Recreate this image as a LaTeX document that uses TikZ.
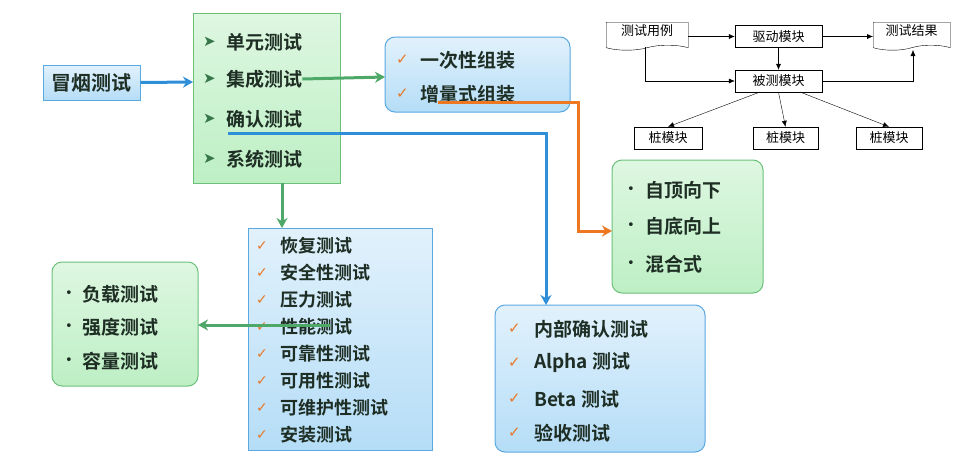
\documentclass[tikz,border=0pt]{standalone}
\usepackage{fontspec}
\setmainfont{Noto Sans CJK SC}
\newfontfamily\cjkb{Noto Sans CJK SC Bold}
\newfontfamily\dv{DejaVu Sans}
\usetikzlibrary{arrows.meta,shapes.symbols}
\definecolor{gfill}{HTML}{BDEFC4}
\definecolor{gdraw}{HTML}{6CC07A}
\definecolor{bfill}{HTML}{B5DDF7}
\definecolor{bdraw}{HTML}{5AA8E0}
\definecolor{arrB}{HTML}{2E8FD8}
\definecolor{arrG}{HTML}{4EA868}
\definecolor{arrO}{HTML}{EE7722}
\definecolor{tick}{HTML}{E8782A}
\definecolor{txt}{HTML}{1E2E24}
\tikzset{
 gbox/.style={draw=gdraw,top color=gfill!50,bottom color=gfill,line width=1pt},
 bbox/.style={draw=bdraw,top color=bfill!40,bottom color=bfill,line width=1pt},
 it/.style={anchor=west,font=\cjkb\fontsize{19}{19}\selectfont,text=txt,inner sep=0pt},
 mk/.style={anchor=west,inner sep=0pt},
 sm/.style={draw,thin,inner sep=2pt,minimum height=22pt,font=\fontsize{13}{13}\selectfont},
 sa/.style={-{Latex[length=6pt,width=5pt]},thin},
 ba/.style={line width=3pt,-{Stealth[length=10pt,width=11pt]}},
}
\begin{document}
\begin{tikzpicture}[x=1pt,y=-1pt]
\useasboundingbox (0,0) rectangle (970,469);
\fill[white] (0,0) rectangle (970,469);
% boxes
\node[bbox,minimum width=97pt,minimum height=35pt,font=\cjkb\fontsize{20}{20}\selectfont,text=txt] (smoke) at (91.5,82.5) {冒烟测试};
\path[gbox] (193,13) rectangle (340,183);
\coordinate (gL) at (193,82); \coordinate (gB) at (282,183);
\foreach \t/\y/\n in {单元测试/42/u,集成测试/79/j,确认测试/119/q,系统测试/159/s}{
 \node[mk,text=arrG!70!black] at (203,\y) {\dv\fontsize{15}{15}\selectfont ➤};
 \node[it] (\n) at (226,\y) {\t};}
\path[bbox,rounded corners=10pt] (385,37) rectangle (570,112);
\coordinate (asmL) at (385,77);
\foreach \t/\y/\n in {一次性组装/60/a1,增量式组装/94/a2}{
 \node[mk,text=tick] at (396,\y) {\dv\fontsize{15}{15}\selectfont ✓};
 \node[it] (\n) at (420,\y) {\t};}
\path[gbox,rounded corners=10pt] (612,160) rectangle (763,293);
\coordinate (tdL) at (612,231);
\foreach \t/\y in {自顶向下/190,自底向上/226,混合式/264}{
 \node[mk,text=txt] at (627,\y) {\dv\fontsize{13}{13}\selectfont •};
 \node[it] at (645,\y) {\t};}
\path[bbox,rounded corners=10pt] (495,305) rectangle (705,452);
\coordinate (vT) at (546,305);
\foreach \t/\y in {内部确认测试/329,Alpha 测试/363,Beta 测试/399,验收测试/433}{
 \node[mk,text=tick] at (508,\y) {\dv\fontsize{15}{15}\selectfont ✓};
 \node[it] at (534,\y) {\t};}
\path[bbox] (248,228) rectangle (432,450);
\coordinate (sysT) at (282,228);
\foreach \t/\y in {恢复测试/246,安全性测试/273,压力测试/300,性能测试/327,可靠性测试/354,可用性测试/381,可维护性测试/408,安装测试/435}{
 \node[mk,text=tick] at (256,\y) {\dv\fontsize{14}{14}\selectfont ✓};
 \node[it,font=\cjkb\fontsize{18}{18}\selectfont] at (280,\y) {\t};}
\coordinate (perf) at (330,325);
\path[gbox,rounded corners=10pt] (52,262) rectangle (198,386);
\coordinate (ldR) at (198,325);
\foreach \t/\y in {负载测试/294,强度测试/327,容量测试/361}{
 \node[mk,text=txt] at (65,\y) {\dv\fontsize{13}{13}\selectfont •};
 \node[it] at (82,\y) {\t};}
% big arrows
\draw[ba,arrB] (smoke.east) -- (gL);
\draw[ba,arrG] (j.east) -- (asmL);
\draw[ba,arrO] (438,102) -- (578,102) |- (tdL);
\draw[ba,arrB] (228,133) -| (vT);
\draw[ba,arrG] (gB) -- (sysT);
\draw[ba,arrG] (perf) -- (ldR);
% top right diagram
\node[sm,tape,tape bend top=none,minimum width=82pt,minimum height=28pt,anchor=north west,text depth=8pt] (tc) at (606,22) {测试用例};
\node[sm,minimum width=87pt] (drv) at (778.5,36.5) {驱动模块};
\node[sm,tape,tape bend top=none,minimum width=77pt,minimum height=28pt,anchor=north west,text depth=8pt] (tr) at (873,22) {测试结果};
\node[sm,minimum width=87pt] (ut) at (778.5,81) {被测模块};
\node[sm,minimum width=68pt] (s1) at (668,138) {桩模块};
\node[sm,minimum width=65pt] (s2) at (785.5,138) {桩模块};
\node[sm,minimum width=66pt] (s3) at (889,138) {桩模块};
\draw[sa] (tc.east |- drv) -- (drv);
\draw[sa] (drv) -- (tr.west |- drv);
\draw[sa] (drv) -- (ut);
\draw[sa] (645,47) |- (ut.west);
\draw[sa] (ut.east) -| (913,50);
\draw[sa] (760,92) -- (s1.north);
\draw[sa] (ut.south) -- (s2.north);
\draw[sa] (800,92) -- (s3.north);
\end{tikzpicture}
\end{document}
